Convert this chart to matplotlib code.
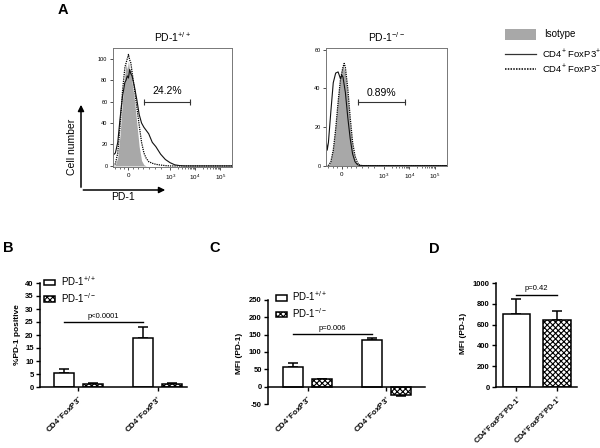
import math
import matplotlib
matplotlib.use('Agg')
import matplotlib.pyplot as plt
from matplotlib.patches import Rectangle, FancyArrowPatch
from matplotlib.lines import Line2D

plt.rcParams['font.family'] = ['Liberation Sans', 'DejaVu Sans']
plt.rcParams['mathtext.fontset'] = 'custom'
plt.rcParams['mathtext.rm'] = 'Liberation Sans'
plt.rcParams['mathtext.it'] = 'Liberation Sans:italic'
plt.rcParams['mathtext.bf'] = 'Liberation Sans:bold'
plt.rcParams['hatch.linewidth'] = 0.8

# ---------------- data ----------------
# Panel A: flow histograms on a logicle display scale (0..1 of the axis)
hist_tick_pos = [0.13, 0.48, 0.69, 0.90]
hist_tick_labels = ['0', '$10^3$', '$10^4$', '$10^5$']

wt_x = [0.00, 0.02, 0.04, 0.06, 0.08, 0.10, 0.11, 0.12, 0.13, 0.14, 0.15, 0.16, 0.18, 0.20,
        0.22, 0.24, 0.26, 0.28, 0.30, 0.33, 0.36, 0.40, 0.44, 0.48, 0.52, 0.56, 0.60, 1.00]
wt_isotype = [0, 1, 8, 30, 62, 86, 95, 90, 98, 88, 92, 78, 62, 40,
              18, 5, 1, 0, 0, 0, 0, 0, 0, 0, 0, 0, 0, 0]
wt_foxp3_neg = [0, 2, 12, 38, 70, 92, 96, 100, 104, 99, 96, 88, 72, 55,
                38, 22, 12, 7, 4, 2.5, 1.5, 0.8, 0.3, 0, 0, 0, 0, 0]
wt_foxp3_pos = [10, 12, 22, 45, 65, 78, 80, 84, 82, 90, 86, 84, 74, 62,
                48, 40, 36, 33, 30, 22, 18, 11, 6, 3, 1, 0.3, 0, 0]

ko_x = [0.00, 0.01, 0.02, 0.04, 0.06, 0.08, 0.10, 0.12, 0.13, 0.14, 0.15, 0.16, 0.18,
        0.20, 0.22, 0.24, 0.26, 0.28, 0.30, 1.00]
ko_isotype = [0, 0, 0, 3, 10, 22, 36, 47, 50, 52, 50, 48, 35,
              20, 9, 3, 0.5, 0, 0, 0]
ko_foxp3_neg = [0, 0, 0, 2, 8, 19, 33, 45, 48, 51, 53, 51, 40,
                25, 12, 5, 1.5, 0.3, 0, 0]
ko_foxp3_pos = [14, 8, 12, 28, 43, 48, 48.6, 45, 47, 46, 42, 38, 25,
                14, 6, 2, 0.5, 0, 0, 0]

wt_gate = [0.26, 0.647]
wt_gate_label = '24.2%'
ko_gate = [0.268, 0.649]
ko_gate_label = '0.89%'

# Panel B
b_categories = ['CD4$^{+}$FoxP3$^{-}$', 'CD4$^{+}$FoxP3$^{+}$']
b_wt_mean = [5.3, 18.7]
b_wt_sem = [1.7, 4.5]
b_ko_mean = [1.3, 1.2]
b_ko_sem = [0.2, 0.3]
b_yticks = [0, 5, 10, 15, 20, 25, 30, 35, 40]

# Panel C
c_categories = ['CD4$^{+}$FoxP3$^{-}$', 'CD4$^{+}$FoxP3$^{+}$']
c_wt_mean = [56, 135]
c_wt_sem = [12.5, 4]
c_ko_mean = [21, -25]
c_ko_sem = [1.5, 2]
c_yticks = [-50, 0, 50, 100, 150, 200, 250]

# Panel D
d_categories = ['CD4$^{+}$FoxP3$^{-}$PD-1$^{+}$', 'CD4$^{+}$FoxP3$^{+}$PD-1$^{+}$']
d_mean = [698, 644]
d_sem = [145, 88]
d_yticks = [0, 200, 400, 600, 800, 1000]

W, H = 600, 448
fig = plt.figure(figsize=(6, 4.48), dpi=100)


def fx(px):
    return px / W


def fy(py):
    return 1 - py / H


def axes_px(x0, y0, x1, y1):
    return fig.add_axes([fx(x0), fy(y1), (x1 - x0) / W, (y1 - y0) / H])


ISO_COL = '#a8a8a8'


def hist_panel(ax, x, iso, neg, pos, ylim, yticks, title, gate, gate_y, label, label_y):
    ax.fill_between(x, iso, 0, color=ISO_COL, lw=0)
    ax.plot(x, neg, color='black', ls=(0, (1, 0.8)), lw=0.9)
    ax.plot(x, pos, color='#111111', lw=0.8)
    ax.set_xlim(0, 1)
    ax.set_ylim(*ylim)
    for s in ax.spines.values():
        s.set_color('#777777')
        s.set_linewidth(0.7)
    ax.set_xticks(hist_tick_pos)
    ax.set_xticklabels(hist_tick_labels, fontsize=4.5)
    minors = [0.02, 0.06, 0.09, 0.17, 0.21, 0.25, 0.30, 0.35, 0.40]
    p3, p4, p5 = hist_tick_pos[1], hist_tick_pos[2], hist_tick_pos[3]
    for k in range(2, 10):
        minors.append(p3 + math.log10(k) * (p4 - p3))
        minors.append(p4 + math.log10(k) * (p5 - p4))
    ax.set_xticks(minors, minor=True)
    ax.set_yticks(yticks)
    ax.set_yticklabels([str(v) for v in yticks], fontsize=4)
    ax.tick_params(axis='both', which='major', length=2.5, width=0.6, pad=1.5, color='#333333')
    ax.tick_params(axis='x', which='minor', length=1.5, width=0.5, color='#333333')
    ax.set_title(title, fontsize=7.5, pad=4)
    ax.plot(gate, [gate_y, gate_y], color='#333333', lw=0.8, marker='|', ms=4, mew=0.8)
    ax.text(sum(gate) / 2, label_y, label, ha='center', va='center', fontsize=7.5)


ax_a1 = axes_px(113, 48, 232, 167)
hist_panel(ax_a1, wt_x, wt_isotype, wt_foxp3_neg, wt_foxp3_pos, (-1, 110),
           [0, 20, 40, 60, 80, 100], 'PD-1$^{+/+}$', wt_gate, 60, wt_gate_label, 69.5)

ax_a2 = axes_px(326, 48, 447, 166)
hist_panel(ax_a2, ko_x, ko_isotype, ko_foxp3_neg, ko_foxp3_pos, (-0.2, 61),
           [0, 20, 40, 60], 'PD-1$^{-/-}$', ko_gate, 32.8, ko_gate_label, 37.7)

# arrows for Cell number / PD-1 axes
fig.add_artist(FancyArrowPatch((fx(81), fy(190)), (fx(81), fy(102)), transform=fig.transFigure,
                               arrowstyle='-|>', mutation_scale=9, lw=1.1, color='black'))
fig.add_artist(FancyArrowPatch((fx(80.5), fy(190)), (fx(168), fy(190)), transform=fig.transFigure,
                               arrowstyle='-|>', mutation_scale=9, lw=1.1, color='black'))
fig.text(fx(72), fy(147), 'Cell number', rotation=90, ha='center', va='center', fontsize=7.5)
fig.text(fx(123), fy(197), 'PD-1', ha='center', va='center', fontsize=7.5)

# legend of panel A
fig.add_artist(Rectangle((fx(505), fy(40)), (536 - 505) / W, 11 / H, transform=fig.transFigure,
                         facecolor=ISO_COL, edgecolor='none'))
fig.add_artist(Line2D([fx(505), fx(536)], [fy(54), fy(54)], transform=fig.transFigure,
                      color='#333333', lw=0.9))
fig.add_artist(Line2D([fx(505), fx(536)], [fy(69), fy(69)], transform=fig.transFigure,
                      color='black', lw=1.1, ls=(0, (1, 0.8))))
fig.text(fx(544), fy(34), 'Isotype', ha='left', va='center', fontsize=7)
fig.text(fx(542), fy(54), 'CD4$^{+}$ FoxP3$^{+}$', ha='left', va='center', fontsize=6.8)
fig.text(fx(542), fy(69), 'CD4$^{+}$ FoxP3$^{-}$', ha='left', va='center', fontsize=6.8)

# panel letters
for letter, (px, py) in {'A': (63, 10), 'B': (8, 248), 'C': (215, 248), 'D': (434, 249)}.items():
    fig.text(fx(px), fy(py), letter, ha='center', va='center', fontsize=10.5, fontweight='bold')


def style_bar_axes(ax, yticks):
    for s in ['top', 'right']:
        ax.spines[s].set_visible(False)
    for s in ['left', 'bottom']:
        ax.spines[s].set_linewidth(1.1)
    ax.set_yticks(yticks)
    ax.set_yticklabels([str(v) for v in yticks], fontsize=5.5, fontweight='bold')
    ax.tick_params(axis='both', length=3, width=1.0, pad=1.5)


def xlabels(ax, pos, labels, size=5.8):
    ax.set_xticks(pos)
    ax.set_xticklabels(labels, rotation=45, ha='right', va='top', rotation_mode='anchor',
                       fontsize=size, fontweight='bold')


BAR_KW = dict(edgecolor='black', linewidth=1.1)
ERR_KW = dict(fmt='none', ecolor='black', elinewidth=1.1, capsize=3.8, capthick=1.1)
HATCH = 'xxxxxx'


def grouped(ax, wt_mean, wt_sem, ko_mean, ko_sem, width, off):
    pos = [1, 2]
    xw = [p - off for p in pos]
    xk = [p + off for p in pos]
    bw = ax.bar(xw, wt_mean, width, color='white', **BAR_KW, zorder=2)
    bk = ax.bar(xk, ko_mean, width, color='white', hatch=HATCH, **BAR_KW, zorder=2)
    ax.errorbar(xw, wt_mean, yerr=[[0 if m >= 0 else s for m, s in zip(wt_mean, wt_sem)],
                                   [s if m >= 0 else 0 for m, s in zip(wt_mean, wt_sem)]], **ERR_KW, zorder=1)
    ax.errorbar(xk, ko_mean, yerr=[[0 if m >= 0 else s for m, s in zip(ko_mean, ko_sem)],
                                   [s if m >= 0 else 0 for m, s in zip(ko_mean, ko_sem)]], **ERR_KW, zorder=1)
    return bw, bk, xw


# Panel B
ax_b = axes_px(40, 283, 187, 387)
bw, bk, xw = grouped(ax_b, b_wt_mean, b_wt_sem, b_ko_mean, b_ko_sem, 0.252, 0.186)
ax_b.set_xlim(0.517, 2.372)
ax_b.set_ylim(0, 40)
style_bar_axes(ax_b, b_yticks)
xlabels(ax_b, [1, 2], b_categories)
ax_b.set_ylabel('%PD-1 positive', fontsize=6, fontweight='bold')
ax_b.yaxis.set_label_coords(-0.13, 0.5)
ax_b.plot(xw, [25, 25], color='black', lw=1.0, clip_on=False)
ax_b.text(sum(xw) / 2, 25.8, 'p<0.0001', ha='center', va='bottom', fontsize=5.5)
ax_b.legend([bw, bk], ['PD-1$^{+/+}$', 'PD-1$^{-/-}$'], loc='upper left',
            bbox_to_anchor=(0.03, 1.085), frameon=False, fontsize=7, handlelength=1.1,
            handleheight=0.5, handletextpad=0.6, labelspacing=0.3, borderpad=0, borderaxespad=0)

# Panel C
ax_c = axes_px(268, 300, 425, 404)
bw, bk, xw = grouped(ax_c, c_wt_mean, c_wt_sem, c_ko_mean, c_ko_sem, 0.254, 0.184)
ax_c.set_xlim(0.498, 2.492)
ax_c.set_ylim(-50, 250)
style_bar_axes(ax_c, c_yticks)
ax_c.spines['bottom'].set_position(('data', 0))
xlabels(ax_c, [1, 2], c_categories)
ax_c.set_ylabel('MFI (PD-1)', fontsize=6, fontweight='bold')
ax_c.yaxis.set_label_coords(-0.16, 0.49)
ax_c.plot(xw, [152, 152], color='black', lw=1.0, clip_on=False)
ax_c.text(sum(xw) / 2, 157, 'p=0.006', ha='center', va='bottom', fontsize=5.5)
ax_c.legend([bw, bk], ['PD-1$^{+/+}$', 'PD-1$^{-/-}$'], loc='upper left',
            bbox_to_anchor=(0.05, 1.10), frameon=False, fontsize=7, handlelength=1.1,
            handleheight=0.5, handletextpad=0.6, labelspacing=0.3, borderpad=0, borderaxespad=0)

# Panel D
ax_d = axes_px(496, 283, 577, 387)
dpos = [0, 1]
bars_d = ax_d.bar(dpos, d_mean, 0.68, color='white', **BAR_KW, zorder=2)
bars_d[1].set_hatch(HATCH)
ax_d.errorbar(dpos, d_mean, yerr=[[0, 0], d_sem], **ERR_KW, zorder=1)
ax_d.set_xlim(-0.506, 1.494)
ax_d.set_ylim(0, 1000)
style_bar_axes(ax_d, d_yticks)
xlabels(ax_d, dpos, d_categories, size=5.2)
ax_d.set_ylabel('MFI (PD-1)', fontsize=6, fontweight='bold')
ax_d.yaxis.set_label_coords(-0.36, 0.52)
ax_d.plot(dpos, [885, 885], color='black', lw=1.0, clip_on=False)
ax_d.text(0.5, 915, 'p=0.42', ha='center', va='bottom', fontsize=5.5)

fig.savefig('out.png', dpi=100)
